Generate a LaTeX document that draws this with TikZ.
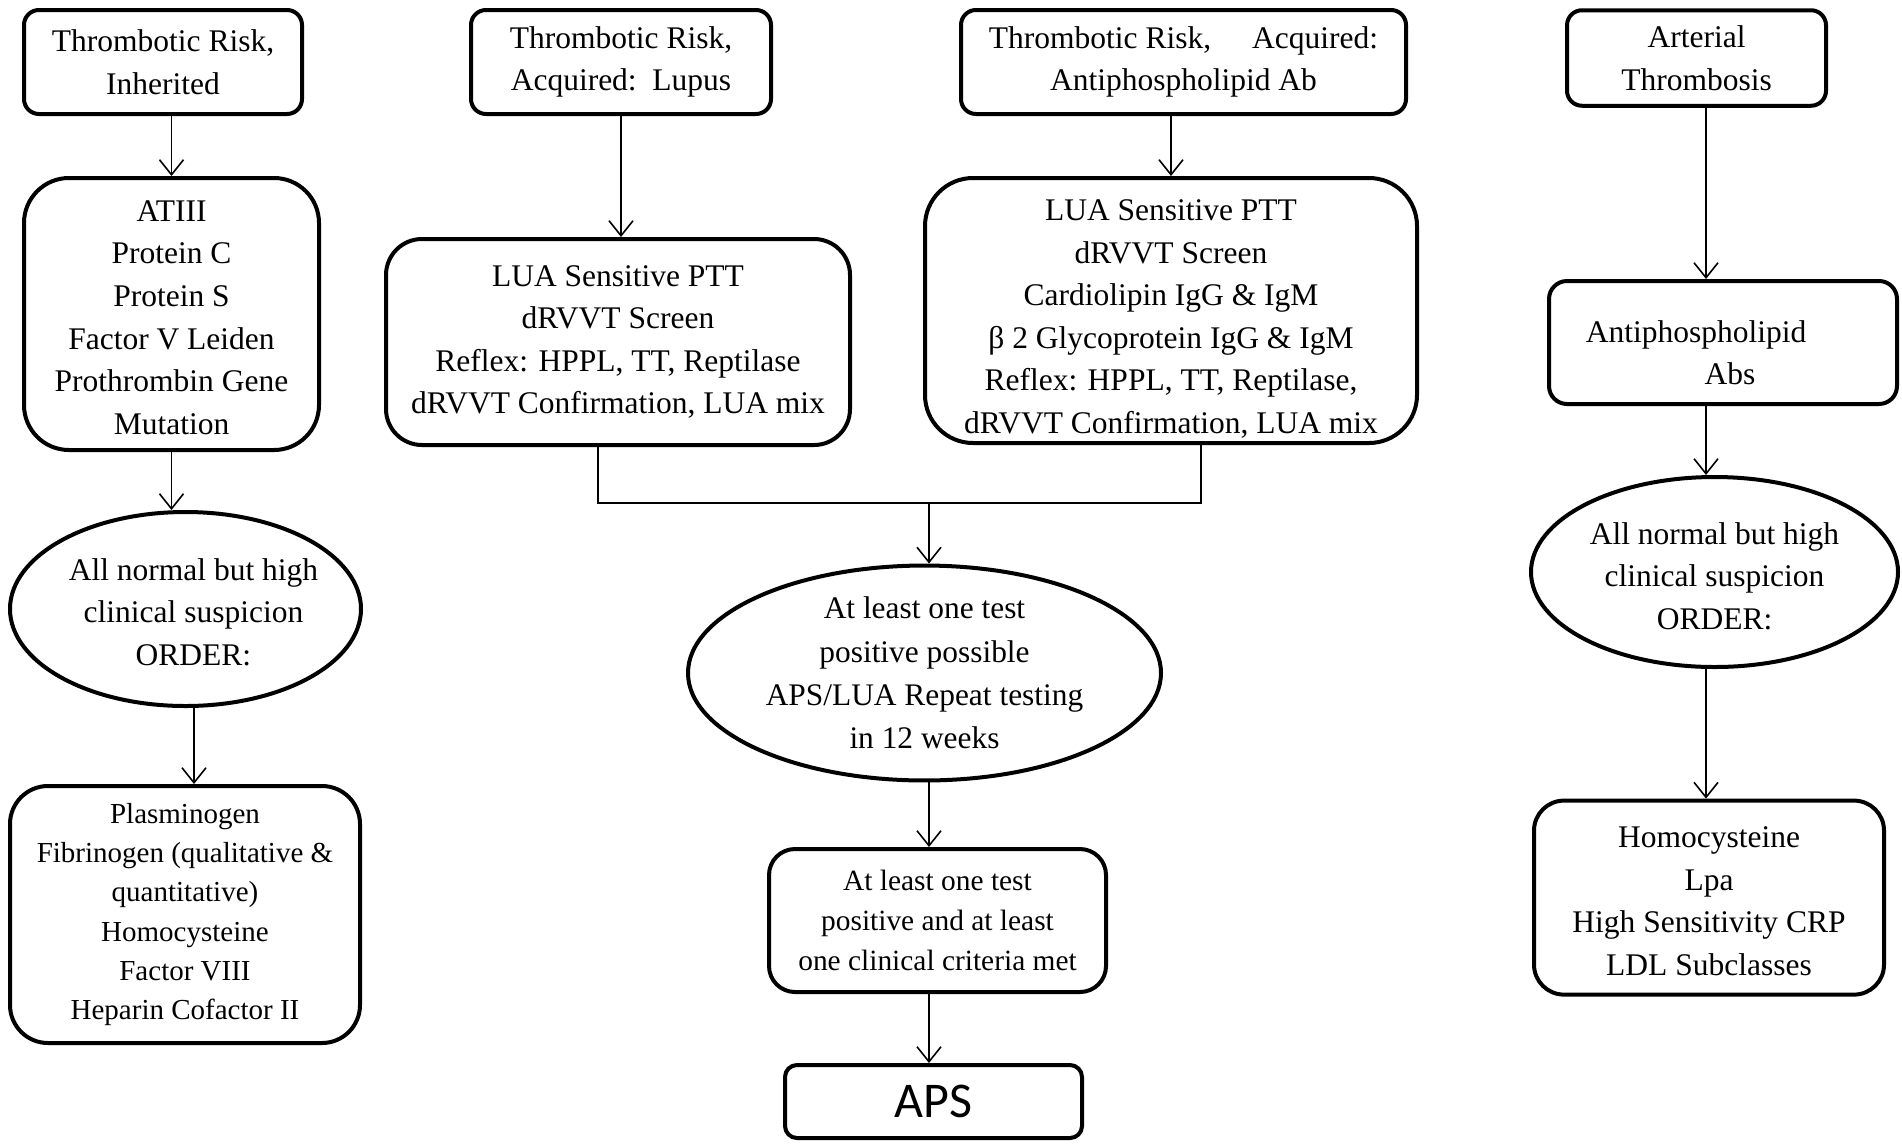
\documentclass[tikz,border=0pt]{standalone}
\usepackage{fontspec}
\setmainfont{Liberation Serif}
\newfontfamily\apsfont{Carlito}
\usetikzlibrary{shapes.geometric,arrows.meta}

\begin{document}
\begin{tikzpicture}[x=1pt,y=-1pt,
  box/.style={draw, line width=4pt, rounded corners=#1, align=center, inner sep=0pt},
  box/.default=15pt,
  oval/.style={draw, ellipse, line width=4pt, align=center, inner sep=0pt},
  link/.style={line width=1.6pt},
  arr/.style={link, -{Straight Barb[length=15pt,width=24pt,line width=1.6pt]}},
  txt/.style={font=\fontsize{31.5}{42.6}\selectfont},
]
\fill[white] (0,0) rectangle (1902,1144);
\useasboundingbox (0,0) rectangle (1902,1144);

% ---- inherited thrombotic risk ----
\node[box=15pt, txt, minimum width=278pt, minimum height=104pt] (B1) at (163,62)
  {Thrombotic Risk,\\Inherited};
\node[box=45pt, txt, minimum width=295pt, minimum height=272pt] (B2) at (171.5,314)
  {\rule{0pt}{28pt}ATIII\\Protein C\\Protein S\\Factor V Leiden\\Prothrombin Gene\\Mutation};
\node[oval, txt, inner xsep=-22pt, minimum width=351pt, minimum height=194pt] (E1) at (185.5,609)
  {\rule{0pt}{28pt}\hspace*{16pt}All normal but high\\\hspace*{16pt}clinical suspicion\\\hspace*{16pt}ORDER:};
\node[box=38pt, font=\fontsize{29}{39.3}\selectfont, minimum width=350pt, minimum height=257pt] (B3) at (185,914.5)
  {Plasminogen\\Fibrinogen (qualitative \&\\quantitative)\\Homocysteine\\Factor VIII\\Heparin Cofactor II};

% ---- acquired: lupus ----
\node[box=15pt, txt, minimum width=300pt, minimum height=104pt] (B4) at (621,62)
  {Thrombotic Risk,\\Acquired:\ \ Lupus};
\node[box=36pt, txt, minimum width=464pt, minimum height=206pt] (B5) at (618,342)
  {LUA Sensitive PTT\\dRVVT Screen\\Reflex: HPPL, TT, Reptilase\\dRVVT Confirmation, LUA mix};

% ---- acquired: antiphospholipid antibodies ----
\node[box=15pt, txt, minimum width=445pt, minimum height=104pt] (B6) at (1183.5,62)
  {Thrombotic Risk,\hspace{1.3em}Acquired:\\Antiphospholipid Ab};
\node[box=48pt, txt, minimum width=492pt, minimum height=265pt] (B7) at (1171,310.5)
  {\rule{0pt}{38pt}LUA Sensitive PTT\\dRVVT Screen\\Cardiolipin IgG \& IgM\\β 2 Glycoprotein IgG \& IgM\\Reflex: HPPL, TT, Reptilase,\\dRVVT Confirmation, LUA mix};

% ---- APS confirmation path ----
\node[oval, font=\fontsize{31.4}{43.3}\selectfont, minimum width=473pt, minimum height=214pt] (E2) at (924.5,673)
  {At least one test\\positive possible\\APS/LUA Repeat testing\\in 12 weeks};
\node[box=26pt, font=\fontsize{29.4}{40}\selectfont, minimum width=337pt, minimum height=143pt] (B8) at (937.5,920.5)
  {At least one test\\positive and at least\\one clinical criteria met};
\node[box=12pt, font=\apsfont\fontsize{50}{56}\selectfont, minimum width=297pt, minimum height=73pt] (B9) at (933.5,1101.5)
  {APS};

% ---- arterial thrombosis ----
\node[box=15pt, txt, minimum width=259pt, minimum height=95.5pt] (B10) at (1696.5,58)
  {Arterial\\Thrombosis};
\node[box=18pt, txt, minimum width=348pt, minimum height=123pt] (B11) at (1723,342.5)
  {\rule{0pt}{42pt}Antiphospholipid\hspace*{54pt}\\\hspace*{14pt}Abs};
\node[oval, txt, inner xsep=-10pt, minimum width=367pt, minimum height=190pt] (E3) at (1714.5,572)
  {\rule{0pt}{30pt}All normal but high\\clinical suspicion\\ORDER:};
\node[box=30pt, txt, minimum width=350pt, minimum height=194pt] (B12) at (1709,897.6)
  {\rule{0pt}{28pt}Homocysteine\\Lpa\\High Sensitivity CRP\\LDL Subclasses};

% ---- connector anchors ----
\coordinate (c1) at (194,0);
\coordinate (c4) at (1706,0);
\coordinate (jl) at (598,503);
\coordinate (jr) at (1201,503);
\coordinate (jm) at (929,503);

% ---- connectors ----
\draw[arr] (B1.south -| B2.north) -- (B2.north);
\draw[arr] (B2.south) -- (E1.north -| B2.south);
\draw[arr] (E1.south -| c1) -- (B3.north -| c1);

\draw[arr] (B4.south) -- (B5.north -| B4.south);
\draw[arr] (B6.south -| B7.north) -- (B7.north);

\draw[link] (B5.south -| jl) -- (jl) -- (jr) -- (B7.south -| jr);
\draw[arr] (jm) -- (E2.north -| jm);
\draw[arr] (E2.south -| jm) -- (B8.north -| jm);
\draw[arr] (B8.south -| jm) -- (B9.north -| jm);

\draw[arr] (B10.south -| c4) -- (B11.north -| c4);
\draw[arr] (B11.south -| c4) -- (E3.north -| c4);
\draw[arr] (E3.south -| c4) -- (B12.north -| c4);
\end{tikzpicture}
\end{document}
